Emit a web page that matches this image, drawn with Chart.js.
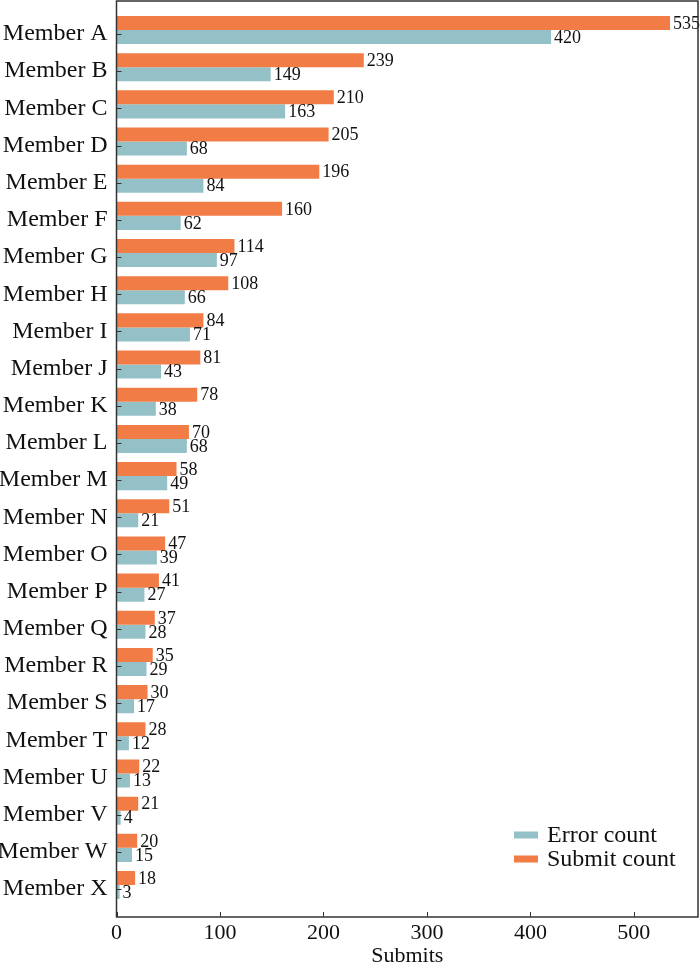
<!DOCTYPE html>
<html>
<head>
<meta charset="utf-8">
<script src="https://cdn.jsdelivr.net/npm/chart.js@4.4.1/dist/chart.umd.min.js"></script>
<style>
    html, body { margin: 0; padding: 0; background: #fff; }
    #wrap { width: 700px; height: 965px; }
</style>
</head>
<body>
<div id="wrap"><canvas id="chart_bars"></canvas></div>
<script>
const members = ['Member A', 'Member B', 'Member C', 'Member D', 'Member E', 'Member F',
    'Member G', 'Member H', 'Member I', 'Member J', 'Member K', 'Member L',
    'Member M', 'Member N', 'Member O', 'Member P', 'Member Q', 'Member R',
    'Member S', 'Member T', 'Member U', 'Member V', 'Member W', 'Member X'];
const submitCount = [535, 239, 210, 205, 196, 160, 114, 108, 84, 81, 78, 70,
    58, 51, 47, 41, 37, 35, 30, 28, 22, 21, 20, 18];
const errorCount = [420, 149, 163, 68, 84, 62, 97, 66, 71, 43, 38, 68,
    49, 21, 39, 27, 28, 29, 17, 12, 13, 4, 15, 3];
const xTicks = [0, 100, 200, 300, 400, 500];

const serif = '"Liberation Serif", "Times New Roman", serif';
const orange = '#F27C46';
const teal = '#94C0C7';

// frame, inward ticks, value labels and legend
const decorations = {
    id: 'decorations',
    afterDatasetsDraw(chart) {
        const ctx = chart.ctx;
        ctx.save();
        ctx.font = '18px ' + serif;
        ctx.fillStyle = '#111';
        ctx.textAlign = 'left';
        ctx.textBaseline = 'middle';
        chart.data.datasets.forEach((ds, di) => {
            chart.getDatasetMeta(di).data.forEach((bar, i) => {
                ctx.fillText(String(ds.data[i].x), bar.x + 3, bar.y + 1);
            });
        });
        ctx.restore();
    },
    afterDraw(chart) {
        const { ctx, chartArea: a, scales } = chart;
        ctx.save();
        ctx.strokeStyle = '#333';
        ctx.lineWidth = 1.5;
        ctx.strokeRect(a.left, a.top, a.right - a.left, a.bottom - a.top);

        ctx.lineWidth = 1;
        ctx.beginPath();
        xTicks.forEach(v => {
            const px = Math.round(scales.x.getPixelForValue(v)) + 0.5;
            ctx.moveTo(px, a.bottom);
            ctx.lineTo(px, a.bottom - 5);
        });
        members.forEach((m, i) => {
            const py = Math.round(scales.y.getPixelForValue(i)) + 4.5;
            ctx.moveTo(a.left, py);
            ctx.lineTo(a.left + 5, py);
        });
        ctx.stroke();

        // legend, bottom right inside the plot
        const items = [['Error count', teal], ['Submit count', orange]];
        ctx.font = '24px ' + serif;
        ctx.textBaseline = 'middle';
        ctx.textAlign = 'left';
        items.forEach(([label, color], k) => {
            const y = a.bottom - 82 + k * 24;
            ctx.fillStyle = color;
            ctx.fillRect(a.right - 184, y - 3.5, 24, 7);
            ctx.fillStyle = '#111';
            ctx.fillText(label, a.right - 151, y + 1);
        });
        ctx.restore();
    }
};

document.addEventListener('DOMContentLoaded', () => {
    new Chart(document.querySelector('#chart_bars'), {
        type: 'bar',
        data: {
            datasets: [
                {
                    label: 'Submit count',
                    data: submitCount.map((v, i) => ({ x: v, y: i })),
                    backgroundColor: orange
                },
                {
                    label: 'Error count',
                    data: errorCount.map((v, i) => ({ x: v, y: i })),
                    backgroundColor: teal
                }
            ]
        },
        options: {
            indexAxis: 'y',
            responsive: true,
            maintainAspectRatio: false,
            animation: false,
            categoryPercentage: 0.755,
            barPercentage: 1.0,
            layout: { padding: { top: 1, right: 2, left: 0, bottom: 0 } },
            plugins: {
                legend: { display: false },
                tooltip: { enabled: false }
            },
            scales: {
                x: {
                    type: 'linear',
                    bounds: 'data',
                    min: 0,
                    max: 562,
                    grid: { display: false, drawTicks: false },
                    border: { display: false },
                    afterBuildTicks: scale => {
                        scale.ticks = xTicks.map(v => ({ value: v }));
                    },
                    afterFit: scale => {
                        scale.height = 48;
                        scale.paddingLeft = 0;
                        scale.paddingRight = 0;
                    },
                    ticks: {
                        color: '#111',
                        padding: 3,
                        font: { family: serif, size: 22 }
                    },
                    title: {
                        display: true,
                        text: 'Submits',
                        color: '#111',
                        padding: { top: 0, bottom: 0 },
                        font: { family: serif, size: 22, lineHeight: 0.8 }
                    }
                },
                y: {
                    type: 'linear',
                    bounds: 'data',
                    offset: false,
                    reverse: true,
                    min: -0.78,
                    max: 23.86,
                    grid: { display: false, drawTicks: false, offset: false },
                    border: { display: false },
                    afterBuildTicks: scale => {
                        scale.ticks = members.map((m, i) => ({ value: i }));
                    },
                    afterFit: scale => {
                        scale.width = 116.5;
                        scale.paddingTop = 0;
                        scale.paddingBottom = 0;
                    },
                    ticks: {
                        autoSkip: false,
                        color: '#111',
                        padding: 9,
                        labelOffset: 4,
                        font: { family: serif, size: 24 },
                        callback: v => members[v]
                    }
                }
            }
        },
        plugins: [decorations]
    });
});
</script>
</body>
</html>
